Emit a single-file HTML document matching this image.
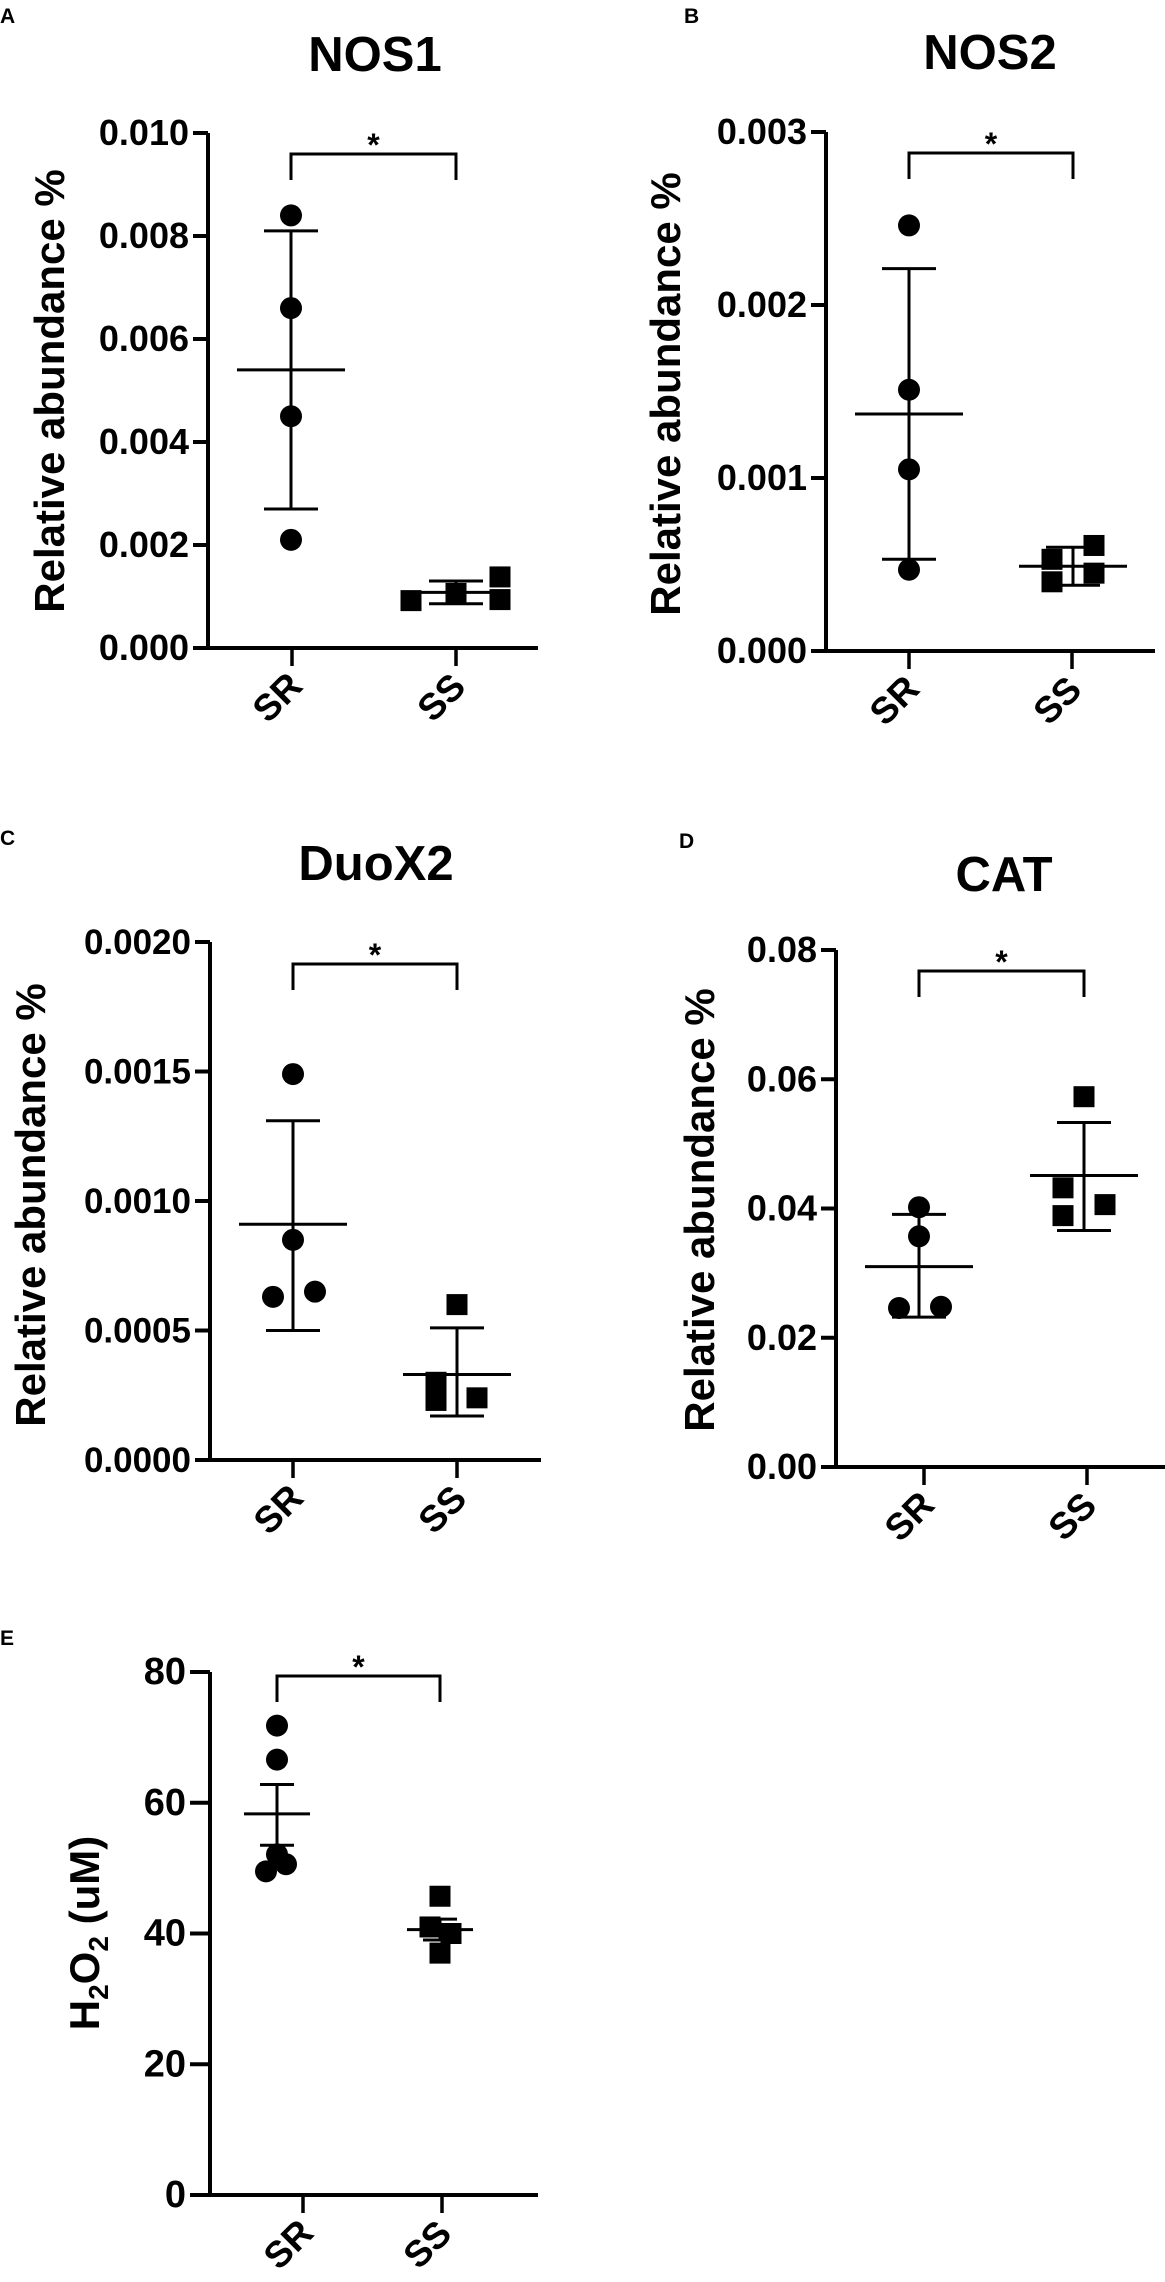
<!DOCTYPE html>
<html><head><meta charset="utf-8">
<style>
html,body{margin:0;padding:0;background:#fff;}
svg{display:block;}
text{font-family:"Liberation Sans",Arial,sans-serif;font-weight:bold;fill:#000;}
</style></head>
<body>
<svg id="fig" width="1165" height="2282" viewBox="0 0 1165 2282" xmlns="http://www.w3.org/2000/svg"></svg>
<script>
// ---------- data ----------
const categories = ["SR", "SS"];

const nos1SR = [0.0084, 0.0066, 0.0045, 0.0021];
const nos1SS = [0.00092, 0.00106, 0.00138, 0.00094];
const nos1Mean = [0.0054, 0.00108];
const nos1Upper = [0.0081, 0.0013];
const nos1Lower = [0.0027, 0.00086];
const nos1Ticks = [0, 0.002, 0.004, 0.006, 0.008, 0.010];
const nos1TickLabels = ["0.000", "0.002", "0.004", "0.006", "0.008", "0.010"];

const nos2SR = [0.00246, 0.00151, 0.00105, 0.00047];
const nos2SS = [0.00061, 0.00053, 0.0004, 0.00045];
const nos2Mean = [0.00137, 0.00049];
const nos2Upper = [0.00221, 0.0006];
const nos2Lower = [0.00053, 0.00038];
const nos2Ticks = [0, 0.001, 0.002, 0.003];
const nos2TickLabels = ["0.000", "0.001", "0.002", "0.003"];

const duoxSR = [0.00149, 0.00085, 0.00063, 0.00065];
const duoxSS = [0.0006, 0.0003, 0.00023, 0.00024];
const duoxMean = [0.00091, 0.00033];
const duoxUpper = [0.00131, 0.00051];
const duoxLower = [0.0005, 0.00017];
const duoxTicks = [0, 0.0005, 0.001, 0.0015, 0.002];
const duoxTickLabels = ["0.0000", "0.0005", "0.0010", "0.0015", "0.0020"];

const catSR = [0.0402, 0.0357, 0.0246, 0.0248];
const catSS = [0.0573, 0.0432, 0.0389, 0.0406];
const catMean = [0.031, 0.0451];
const catUpper = [0.0391, 0.0533];
const catLower = [0.0232, 0.0366];
const catTicks = [0, 0.02, 0.04, 0.06, 0.08];
const catTickLabels = ["0.00", "0.02", "0.04", "0.06", "0.08"];

const h2o2SR = [71.8, 66.6, 52.1, 50.6, 49.5];
const h2o2SS = [45.7, 41, 40, 37];
const h2o2Mean = [58.3, 40.6];
const h2o2Upper = [62.8, 42.2];
const h2o2Lower = [53.5, 39];
const h2o2Ticks = [0, 20, 40, 60, 80];
const h2o2TickLabels = ["0", "20", "40", "60", "80"];

// ---------- drawing ----------
const NS = "http://www.w3.org/2000/svg";
const svg = document.getElementById("fig");
function mk(tag, attrs, parent) {
  const e = document.createElementNS(NS, tag);
  for (const k in attrs) e.setAttribute(k, attrs[k]);
  (parent || svg).appendChild(e);
  return e;
}
function line(g, x1, y1, x2, y2, w) {
  return mk("line", {x1: x1, y1: y1, x2: x2, y2: y2, stroke: "#000", "stroke-width": w}, g);
}

function panel(c) {
  const g = mk("g", {});
  
  
  const yS = v => c.y0 - (v - c.vmin) / (c.vmax - c.vmin) * (c.y0 - c.yTop);

  // panel letter
  const L = mk("text", {x: c.letterX, y: c.letterY, "font-size": 21}, g);
  L.textContent = c.letter;
  
  

  // title
  if (c.title) {
    const t = mk("text", {x: c.titleX, y: c.titleY, "font-size": 49, "text-anchor": "middle"}, g);
    t.textContent = c.title;
    
    
  }

  // y axis
  const ya = line(g, c.ax, yS(c.ticks[c.ticks.length - 1]), c.ax, c.y0 + 2, 4);
  
  
  c.ticks.forEach((v, i) => {
    const y = yS(v);
    line(g, c.ax - c.tickLen, y, c.ax, y, 4);
    const tl = mk("text", {x: c.ax - c.tickLen - 4, y: y + 12, "font-size": c.tickFont, "text-anchor": "end"}, g);
    tl.textContent = c.tickLabels[i];
    
    
  });

  // x axis
  const xa = line(g, c.ax - 2, c.y0, c.axEnd, c.y0, 4);
  
  
  categories.forEach((cat, i) => {
    const tx = c.tickX[i];
    line(g, tx, c.y0, tx, c.y0 + 18, 3.5);
    const lx = tx - 15, ly = c.y0 + 62;
    const xl = mk("text", {x: lx, y: ly, "font-size": 37, "text-anchor": "middle",
      transform: "rotate(-45 " + lx + " " + (ly - 13) + ")"}, g);
    xl.textContent = cat;
    
    
  });

  // y axis title
  const yt = mk("text", {x: 0, y: 0, "font-size": 42, "text-anchor": "middle",
    transform: "translate(" + c.ytX + "," + c.ytY + ") rotate(-90)"}, g);
  if (c.yTitleHTML) {
    yt.appendChild(document.createTextNode("H"));
    const s1 = mk("tspan", {"font-size": 28, dy: 9}, yt); s1.textContent = "2";
    const s2 = mk("tspan", {dy: -9}, yt); s2.textContent = "O";
    const s3 = mk("tspan", {"font-size": 28, dy: 9}, yt); s3.textContent = "2";
    const s4 = mk("tspan", {dy: -9}, yt); s4.textContent = " (uM)";
  } else {
    yt.textContent = "Relative abundance %";
  }
  
  

  // significance bracket
  const by = c.bracketY;
  const br = mk("path", {d: "M" + c.grpX[0] + " " + (by + 26) + " V" + by + " H" + c.grpX[1] + " V" + (by + 26),
    fill: "none", stroke: "#000", "stroke-width": 3}, g);
  
  
  const st = mk("text", {x: (c.grpX[0] + c.grpX[1]) / 2, y: by + 2, "font-size": 32, "text-anchor": "middle"}, g);
  st.textContent = "*";
  
  

  // points
  c.sr.forEach((v, i) => {
    const p = mk("circle", {cx: c.grpX[0] + c.jitSR[i], cy: yS(v), r: 11, fill: "#000"}, g);
    
    
  });
  c.ss.forEach((v, i) => {
    const p = mk("rect", {x: c.grpX[1] + c.jitSS[i] - 10.5, y: yS(v) - 10.5, width: 21, height: 21, fill: "#000"}, g);
    
    
  });

  // mean and error bars
  [0, 1].forEach(i => {
    const x = c.grpX[i];
    const eg = mk("g", {}, g);
    
    
    line(eg, x, yS(c.upper[i]), x, yS(c.lower[i]), 3);
    line(eg, x - c.capW, yS(c.upper[i]), x + c.capW, yS(c.upper[i]), 3);
    line(eg, x - c.capW, yS(c.lower[i]), x + c.capW, yS(c.lower[i]), 3);
    const m = line(eg, x - c.meanW, yS(c.mean[i]), x + c.meanW, yS(c.mean[i]), 3);
    
    
  });
}

panel({id: "nos1", letter: "A", letterX: 0, letterY: 23, title: "NOS1", titleX: 375, titleY: 71,
  ax: 208, y0: 648, yTop: 133, vmin: 0, vmax: 0.010, ticks: nos1Ticks, tickLabels: nos1TickLabels,
  tickLen: 15, tickFont: 36, axEnd: 538, tickX: [292, 456], grpX: [291, 456],
  ytX: 64, ytY: 391, bracketY: 154,
  sr: nos1SR, ss: nos1SS, jitSR: [0, 0, 0, 0], jitSS: [-45, 0, 44, 44],
  mean: nos1Mean, upper: nos1Upper, lower: nos1Lower, capW: 27, meanW: 54});

panel({id: "nos2", letter: "B", letterX: 684, letterY: 23, title: "NOS2", titleX: 990, titleY: 69,
  ax: 826, y0: 651, yTop: 132, vmin: 0, vmax: 0.003, ticks: nos2Ticks, tickLabels: nos2TickLabels,
  tickLen: 15, tickFont: 36, axEnd: 1155, tickX: [909, 1072], grpX: [909, 1073],
  ytX: 680, ytY: 394, bracketY: 153,
  sr: nos2SR, ss: nos2SS, jitSR: [0, 0, 0, 0], jitSS: [21, -21, -21, 21],
  mean: nos2Mean, upper: nos2Upper, lower: nos2Lower, capW: 27, meanW: 54});

panel({id: "duox2", letter: "C", letterX: 0, letterY: 845, title: "DuoX2", titleX: 376, titleY: 880,
  ax: 210, y0: 1460, yTop: 942, vmin: 0, vmax: 0.002, ticks: duoxTicks, tickLabels: duoxTickLabels,
  tickLen: 15, tickFont: 35, axEnd: 541, tickX: [293, 457], grpX: [293, 457],
  ytX: 45, ytY: 1205, bracketY: 964,
  sr: duoxSR, ss: duoxSS, jitSR: [0, 0, -20, 22], jitSS: [0, -21, -21, 20],
  mean: duoxMean, upper: duoxUpper, lower: duoxLower, capW: 27, meanW: 54});

panel({id: "cat", letter: "D", letterX: 679, letterY: 848, title: "CAT", titleX: 1004, titleY: 891,
  ax: 836, y0: 1467, yTop: 950, vmin: 0, vmax: 0.08, ticks: catTicks, tickLabels: catTickLabels,
  tickLen: 15, tickFont: 36, axEnd: 1165, tickX: [924, 1087], grpX: [919, 1084],
  ytX: 714, ytY: 1210, bracketY: 971,
  sr: catSR, ss: catSS, jitSR: [0, 0, -20, 22], jitSS: [0, -21, -21, 21],
  mean: catMean, upper: catUpper, lower: catLower, capW: 27, meanW: 54});

panel({id: "h2o2", letter: "E", letterX: 0, letterY: 1645, title: "", titleX: 0, titleY: 0,
  ax: 210, y0: 2195, yTop: 1672, vmin: 0, vmax: 80, ticks: h2o2Ticks, tickLabels: h2o2TickLabels,
  tickLen: 20, tickFont: 38, axEnd: 538, tickX: [303, 442], grpX: [277, 440],
  ytX: 99, ytY: 1933, bracketY: 1676, yTitleHTML: true,
  sr: h2o2SR, ss: h2o2SS, jitSR: [0, 0, 0, 9, -11], jitSS: [0, -10, 11, 0],
  mean: h2o2Mean, upper: h2o2Upper, lower: h2o2Lower, capW: 17, meanW: 33});
</script>
</body></html>
